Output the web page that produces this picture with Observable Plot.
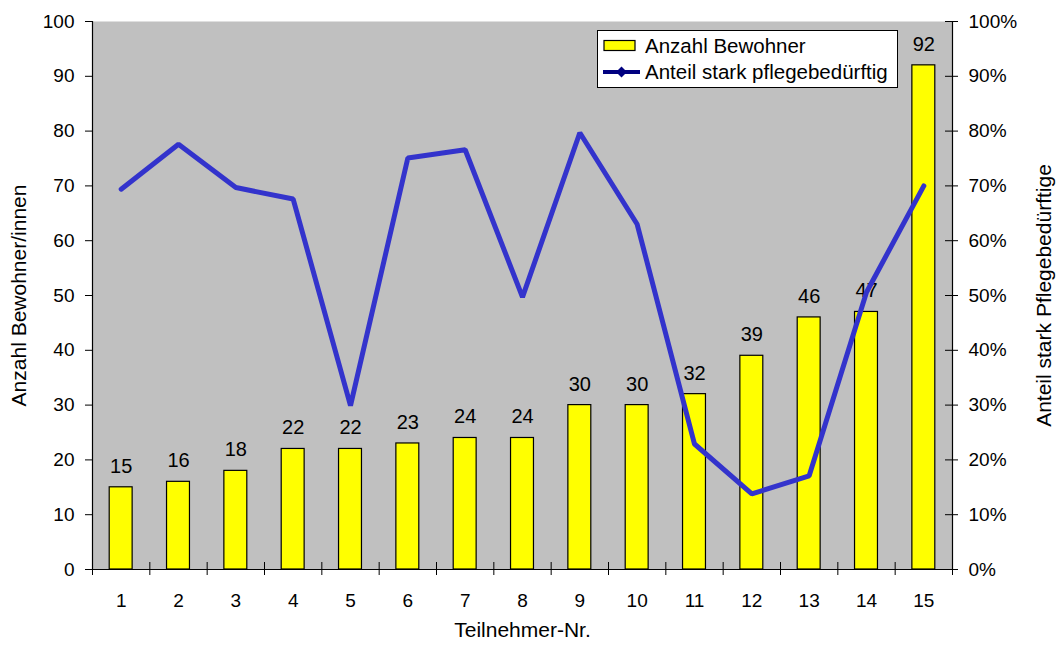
<!DOCTYPE html>
<html>
<head>
<meta charset="utf-8">
<script src="https://cdn.jsdelivr.net/npm/d3@7"></script>
<script src="https://cdn.jsdelivr.net/npm/@observablehq/plot@0.6"></script>
<style>
  html, body { margin: 0; padding: 0; background: #fff; }
  #wrap { position: relative; width: 1058px; height: 646px; font-family: "Liberation Sans", Arial, sans-serif; }
  #legend { position: absolute; left: 597px; top: 30px; width: 299px; height: 56px; background: #fff; border: 1px solid #000; }
  #legend .row { position: absolute; left: 0; height: 26px; display: flex; align-items: center; font-size: 20.5px; color: #000; white-space: nowrap; }
  #legend svg { margin-left: 5px; margin-right: 8px; }
</style>
</head>
<body>
<div id="wrap"></div>
<script>
const teilnehmer = [1, 2, 3, 4, 5, 6, 7, 8, 9, 10, 11, 12, 13, 14, 15];
const bewohner = [15, 16, 18, 22, 22, 23, 24, 24, 30, 30, 32, 39, 46, 47, 92];
const anteilPflege = [69.4, 77.6, 69.7, 67.6, 29.9, 75.1, 76.6, 49.7, 79.7, 63.0, 22.9, 13.8, 17.1, 50.6, 70.0];
const yTicks = [0, 10, 20, 30, 40, 50, 60, 70, 80, 90, 100];
const xBoundaries = [0.5, 1.5, 2.5, 3.5, 4.5, 5.5, 6.5, 7.5, 8.5, 9.5, 10.5, 11.5, 12.5, 13.5, 14.5, 15.5];
const seriesNames = ["Anzahl Bewohner", "Anteil stark pflegebedürftig"];
const xTitle = "Teilnehmer-Nr.";
const yTitleLeft = "Anzahl Bewohner/innen";
const yTitleRight = "Anteil stark Pflegebedürftige";

const data = teilnehmer.map((n, i) => ({n, count: bewohner[i], pct: anteilPflege[i]}));
const first = xBoundaries[0], last = xBoundaries[xBoundaries.length - 1];

const chart = Plot.plot({
  width: 1058,
  height: 646,
  marginLeft: 92,
  marginRight: 106,
  marginTop: 21,
  marginBottom: 77,
  style: {fontSize: "19px", fontFamily: "'Liberation Sans', Arial, sans-serif", color: "#000", background: "#fff"},
  x: {domain: [first, last], label: null},
  y: {domain: [0, 100], label: null},
  marks: [
    Plot.frame({fill: "#c0c0c0", stroke: "none"}),
    Plot.rectY(data, {x1: d => d.n - 0.2, x2: d => d.n + 0.2, y1: 0, y2: "count", fill: "#ffff00", stroke: "#000", strokeWidth: 1.2}),
    Plot.text(data, {x: "n", y: "count", text: d => String(d.count), dy: -21, fill: "#000", fontSize: 20}),
    Plot.line(data, {x: "n", y: "pct", stroke: "#3333cc", strokeWidth: 5, strokeLinecap: "round", strokeLinejoin: "miter"}),
    // axis lines
    Plot.ruleX([first, last], {stroke: "#000", strokeWidth: 1.2}),
    Plot.ruleY([0], {stroke: "#000", strokeWidth: 1.2}),
    // ticks
    Plot.ruleY(yTicks, {x1: first, x2: first, insetLeft: -7, insetRight: 0, stroke: "#000"}),
    Plot.ruleY(yTicks, {x1: last, x2: last, insetLeft: -7, insetRight: -6, stroke: "#000"}),
    Plot.ruleX(xBoundaries, {y1: 0, y2: 0, insetTop: -7, insetBottom: -6, stroke: "#000"}),
    // tick labels
    Plot.axisY({anchor: "left", ticks: yTicks, tickSize: 0, tickPadding: 18, label: null}),
    Plot.axisY({anchor: "right", ticks: yTicks, tickSize: 0, tickPadding: 16, tickFormat: d => d + "%", label: null}),
    Plot.axisX({anchor: "bottom", ticks: teilnehmer, tickSize: 0, tickPadding: 24, tickFormat: d => String(d), label: null}),
    // titles
    Plot.text([xTitle], {frameAnchor: "bottom", dy: 67, text: d => d, fontSize: 21, fill: "#000", textAnchor: "middle"}),
    Plot.text([yTitleLeft], {frameAnchor: "left", dx: -73, rotate: -90, text: d => d, fontSize: 21, fill: "#000", textAnchor: "middle", lineAnchor: "middle"}),
    Plot.text([yTitleRight], {frameAnchor: "right", dx: 92, rotate: -90, text: d => d, fontSize: 21, fill: "#000", textAnchor: "middle", lineAnchor: "middle"})
  ]
});

const wrap = document.getElementById("wrap");
wrap.appendChild(chart);

const legend = document.createElement("div");
legend.id = "legend";
legend.innerHTML = `
  <div class="row" style="top:2px">
    <svg width="34" height="14"><rect x="1" y="1.5" width="31" height="10" fill="#ffff00" stroke="#000" stroke-width="1.2"/></svg>
    <span>${seriesNames[0]}</span>
  </div>
  <div class="row" style="top:28px">
    <svg width="37" height="14"><line x1="0" y1="7" x2="37" y2="7" stroke="#000080" stroke-width="4"/><path d="M18.5 1.5 L24 7 L18.5 12.5 L13 7 Z" fill="#000080"/></svg>
    <span style="margin-left:-3px">${seriesNames[1]}</span>
  </div>`;
wrap.appendChild(legend);
</script>
</body>
</html>
